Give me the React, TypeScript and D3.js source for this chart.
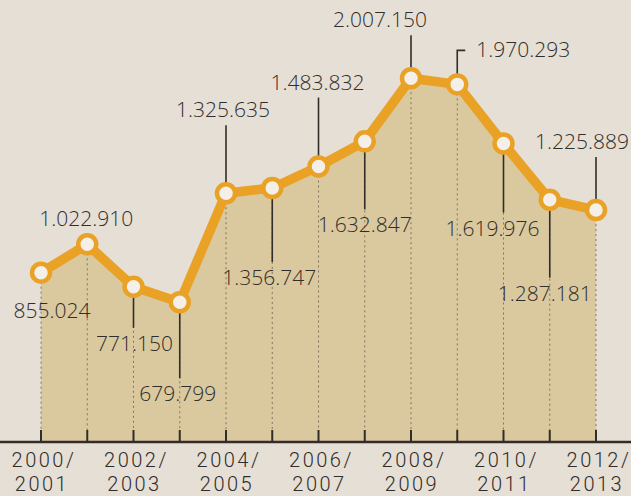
import React from 'react';
import * as d3 from 'd3';

const seasons = [
  '2000/2001', '2001/2002', '2002/2003', '2003/2004', '2004/2005', '2005/2006', '2006/2007',
  '2007/2008', '2008/2009', '2009/2010', '2010/2011', '2011/2012', '2012/2013',
];
const values = [
  855024, 1022910, 771150, 679799, 1325635, 1356747, 1483832,
  1632847, 2007150, 1970293, 1619976, 1287181, 1225889,
];
const labels = [
  '855.024', '1.022.910', '771.150', '679.799', '1.325.635', '1.356.747', '1.483.832',
  '1.632.847', '2.007.150', '1.970.293', '1.619.976', '1.287.181', '1.225.889',
];
const tickSeasons = ['2000/2001', '2002/2003', '2004/2005', '2006/2007', '2008/2009', '2010/2011', '2012/2013'];

// label layout: side, leader length, horizontal shift
const labelLayout: [string, number, number][] = [
  ['below', 0, 11], ['above', 0, -1], ['below', 31, 1], ['below', 66, -2],
  ['above', 58, -3], ['below', 64, -3], ['above', 59, -1], ['below', 58, 0],
  ['above', 33, -31], ['side', 24, 0], ['below', 59, -11], ['below', 68, -5], ['above', 43, -14],
];

const W = 631;
const H = 496;
const axisY = 442;
const R = 9;

export default function App() {
  const x = d3.scalePoint<string>().domain(seasons).range([41, 596]);
  const y = d3.scaleLinear().domain([0, 2100000]).range([417, 62.5]);

  const pts = seasons.map((s, i) => ({ s, v: values[i], px: x(s) as number, py: y(values[i]) }));

  const area = d3.area<typeof pts[0]>()
    .x(d => d.px)
    .y0(axisY)
    .y1(d => d.py);
  const line = d3.line<typeof pts[0]>()
    .x(d => d.px)
    .y(d => d.py);

  const font = "'Open Sans', 'DejaVu Sans', sans-serif";
  const axisFont = "Roboto, 'DejaVu Sans', sans-serif";
  const ink = '#302d2a';

  return (
    <div style={{ position: 'absolute', left: 0, top: 0 }}>
      <svg width={W} height={H} style={{ display: 'block' }}>
        <rect width={W} height={H} fill="#e6dfd5" />
        <path d={area(pts) || ''} fill="#dac99e" />

        {pts.map((d, i) => (
          <line key={'g' + i} x1={d.px} x2={d.px} y1={d.py + R} y2={axisY - 10}
            stroke="#6b6150" strokeWidth={1} strokeDasharray="2,3" opacity={0.8} />
        ))}

        {pts.map((d, i) => (
          <line key={'t' + i} x1={d.px} x2={d.px} y1={axisY - 12} y2={axisY}
            stroke={ink} strokeWidth={2} />
        ))}
        <line x1={0} x2={W} y1={axisY} y2={axisY} stroke={ink} strokeWidth={2.5} />

        {tickSeasons.map(s => {
          const [a, b] = s.split('/');
          const tx = x(s) as number;
          return (
            <g key={s} fontFamily={axisFont} fontSize={20} fontWeight={300} fill="#2f2c2a" letterSpacing={2.5} textAnchor="middle">
              <text x={tx + 3} y={467}>{a + '/'}</text>
              <text x={tx + 1} y={491}>{b}</text>
            </g>
          );
        })}

        {/* leaders and value labels */}
        {pts.map((d, i) => {
          const [side, len, dx] = labelLayout[i];
          const txt = labels[i];
          if (side === 'side') {
            const top = d.py - R - 1 - len;
            return (
              <g key={'l' + i}>
                <polyline points={`${d.px},${d.py - R - 1} ${d.px},${top} ${d.px + 8},${top}`}
                  fill="none" stroke={ink} strokeWidth={1.6} />
                <text x={d.px + 19} y={top + 7} fontFamily={font} fontSize={21} fontWeight={300} fill={ink}>{txt}</text>
              </g>
            );
          }
          if (side === 'above') {
            const start = d.py - R - 1;
            const end = start - len;
            const base = len ? end - 8 : d.py - 18;
            return (
              <g key={'l' + i}>
                {len > 0 && <line x1={d.px} x2={d.px} y1={start} y2={end} stroke={ink} strokeWidth={1.6} />}
                <text x={d.px + dx} y={base} textAnchor="middle" fontFamily={font} fontSize={21} fontWeight={300} fill={ink}>{txt}</text>
              </g>
            );
          }
          const start = d.py + R + 1;
          const end = start + len;
          const base = len ? end + 23 : d.py + 45;
          return (
            <g key={'l' + i}>
              {len > 0 && <line x1={d.px} x2={d.px} y1={start} y2={end} stroke={ink} strokeWidth={1.6} />}
              <text x={d.px + dx} y={base} textAnchor="middle" fontFamily={font} fontSize={21} fontWeight={300} fill={ink}>{txt}</text>
            </g>
          );
        })}

        <path d={line(pts) || ''} fill="none" stroke="#e9a126" strokeWidth={9.5} strokeLinejoin="round" />
        {pts.map((d, i) => (
          <circle key={'c' + i} cx={d.px} cy={d.py} r={R} fill="#f4efe8" stroke="#e9a126" strokeWidth={4.5} />
        ))}
      </svg>
    </div>
  );
}
